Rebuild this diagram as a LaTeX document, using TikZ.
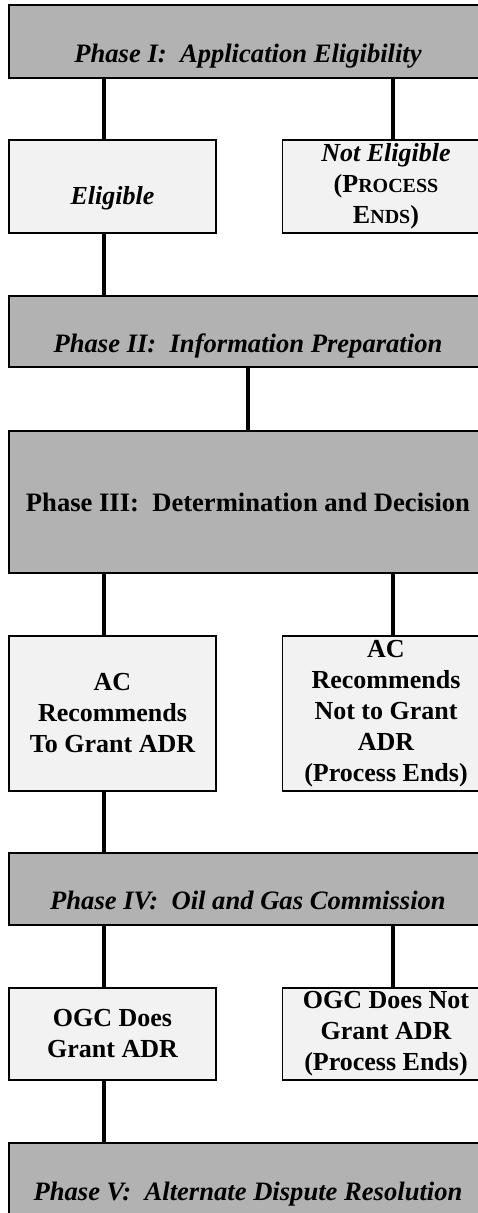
\documentclass[tikz,border=0pt]{standalone}
\usepackage{fontspec}
\setmainfont{Liberation Serif}
\definecolor{phasegray}{gray}{0.70}
\definecolor{boxgray}{gray}{0.95}
\newcommand{\fakesc}[1]{{\fontsize{20}{31}\selectfont #1}}

\begin{document}
\begin{tikzpicture}[x=1pt,y=-1pt,
  phase/.style={draw,line width=1.2pt,fill=phasegray,minimum width=478pt,inner sep=2pt,
    font=\fontsize{26.6}{31}\selectfont\bfseries\itshape},
  low/.style={text height=41pt,text depth=0pt},
  result/.style={draw,line width=1.2pt,fill=boxgray,minimum width=207pt,inner sep=2pt,
    align=center,font=\fontsize{26}{31}\selectfont\bfseries},
  link/.style={line width=4.8pt}]
\useasboundingbox (0,0) rectangle (477,1213);

\node[phase,low,minimum height=73pt] (p1) at (248,41.5) {Phase I:\ \ Application Eligibility};

\node[result,minimum height=93pt,text height=36pt,text depth=0pt] (elig) at (112.5,186.5) {\itshape Eligible};
\node[result,minimum height=93pt] (notelig) at (386,186.5) {{\itshape Not Eligible}\\(P\fakesc{ROCESS}\\E\fakesc{NDS})};

\node[phase,low,minimum height=71pt] (p2) at (248,331.5) {Phase II:\ \ Information Preparation};

\node[phase,minimum height=142pt,font=\fontsize{26.6}{31}\selectfont\bfseries] (p3) at (248,502) {Phase III:\ \ Determination and Decision};

\node[result,minimum height=155pt] (acyes) at (112.5,713.5) {AC\\Recommends\\To Grant ADR};
\node[result,minimum height=155pt] (acno) at (386,713.5) {AC\\Recommends\\Not to Grant\\ADR\\(Process Ends)};

\node[phase,low,minimum height=72pt] (p4) at (248,889) {Phase IV:\ \ Oil and Gas Commission};

\node[result,minimum height=92pt] (ogcyes) at (112.5,1034) {OGC Does\\Grant ADR};
\node[result,minimum height=92pt] (ogcno) at (386,1034) {OGC Does Not\\Grant ADR\\(Process Ends)};

\node[phase,low,minimum height=73pt] (p5) at (248,1179.5) {Phase V:\ \ Alternate Dispute Resolution};

\path[draw,link] ([xshift=-8.5pt]p1.south -| elig.north) -- ([xshift=-8.5pt]elig.north);
\path[draw,link] ([xshift=7pt]p1.south -| notelig.north) -- ([xshift=7pt]notelig.north);
\path[draw,link] ([xshift=-8.5pt]elig.south) -- ([xshift=-8.5pt]p2.north -| elig.south);
\path[draw,link] (p2.south) -- (p3.north);
\path[draw,link] ([xshift=-8.5pt]p3.south -| acyes.north) -- ([xshift=-8.5pt]acyes.north);
\path[draw,link] ([xshift=7pt]p3.south -| acno.north) -- ([xshift=7pt]acno.north);
\path[draw,link] ([xshift=-8.5pt]acyes.south) -- ([xshift=-8.5pt]p4.north -| acyes.south);
\path[draw,link] ([xshift=-8.5pt]p4.south -| ogcyes.north) -- ([xshift=-8.5pt]ogcyes.north);
\path[draw,link] ([xshift=7pt]p4.south -| ogcno.north) -- ([xshift=7pt]ogcno.north);
\path[draw,link] ([xshift=-8.5pt]ogcyes.south) -- ([xshift=-8.5pt]p5.north -| ogcyes.south);
\end{tikzpicture}
\end{document}
